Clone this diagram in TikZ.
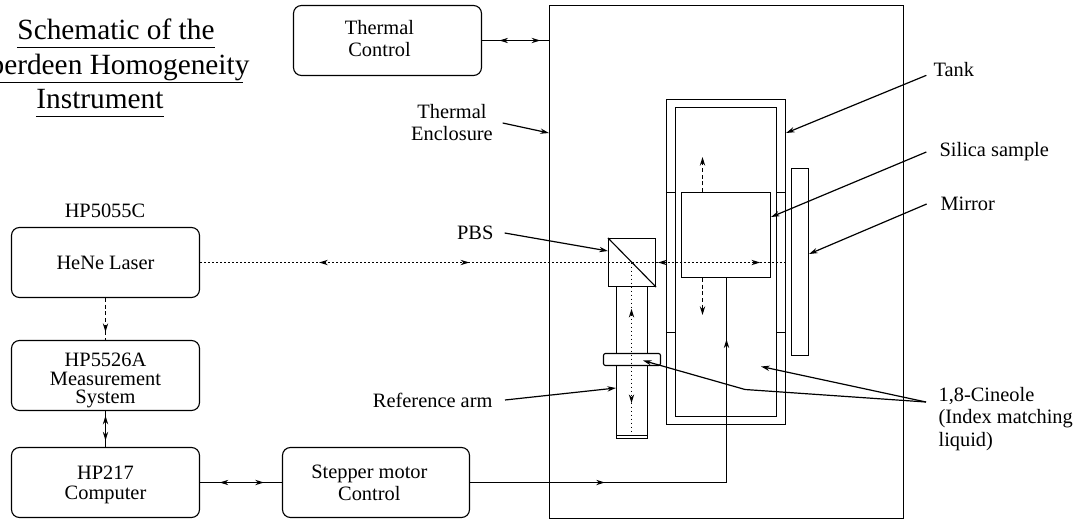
\documentclass[tikz,border=0pt]{standalone}
\usepackage{fontspec}
\setmainfont{Liberation Serif}
\usetikzlibrary{arrows.meta,decorations.markings}

\begin{document}
\begin{tikzpicture}[
    x=0.75pt, y=-0.75pt,
    line width=0.85pt,
    >={Stealth[length=6.5pt,width=4pt]},
    lab/.style={inner sep=0pt, align=center, font=\fontsize{15.3}{16.5}\selectfont},
    sidelab/.style={lab, anchor=west, align=left},
    titlelab/.style={inner sep=0pt, text depth=5pt, font=\fontsize{22}{24}\selectfont},
    block/.style={rectangle, draw, rounded corners=6pt, minimum width=141pt, minimum height=52.5pt, inner sep=0pt, align=center, font=\fontsize{15.3}{16.5}\selectfont},
    part/.style={rectangle, draw, inner sep=0pt},
    pointer/.style={->, line width=0.9pt},
    beam/.style={dash pattern=on 1.2pt off 1.8pt, line width=0.9pt},
    outtips/.style 2 args={decoration={markings, mark=at position #1 with {\arrowreversed{>}}, mark=at position #2 with {\arrow{>}}}, postaction={decorate}},
    fwdtips/.style 2 args={decoration={markings, mark=at position #1 with {\arrow{>}}, mark=at position #2 with {\arrow{>}}}, postaction={decorate}},
    fwdtip/.style={decoration={markings, mark=at position #1 with {\arrow{>}}}, postaction={decorate}},
]
    \useasboundingbox (0,0) rectangle (1080,520);

    % Title
    \node[titlelab, anchor=base] (title1) at (116,40) {Schematic of the};
    \node[titlelab, anchor=base east] (title2) at (250,75) {Aberdeen Homogeneity};
    \node[titlelab, anchor=base] (title3) at (100,109) {Instrument};
    \draw[line width=0.6pt] (title1.south west) -- (title1.south east);
    \draw[line width=0.6pt] (title2.south west) -- ([xshift=-5pt]title2.south east);
    \draw[line width=0.6pt] (title3.south west) -- (title3.south east);

    % Control boxes
    \node[block] (thermal) at (387.5,40.5) {Thermal\hspace*{12pt}\\Control\hspace*{12pt}\rule[-3pt]{0pt}{0pt}};
    \node[block] (laser) at (105.5,262.5) {HeNe Laser};
    \node[block, font=\fontsize{15.3}{14}\selectfont] (meas) at (105.5,375.5) {\rule{0pt}{18pt}HP5526A\\Measurement\\System};
    \node[block, font=\fontsize{15.3}{15.5}\selectfont] (comp) at (105.5,482.5) {\rule{0pt}{14pt}HP217\\Computer};
    \node[block, minimum width=140.25pt] (stepper) at (376,482.5) {Stepper motor\hspace*{10pt}\\Control\hspace*{10pt}};
    \node[lab] (hplab) at (105,211) {HP5055C};

    % Enclosure and tank
    \node[part, minimum width=265.5pt, minimum height=384.75pt] (enclosure) at (726.5,262) {};
    \node[part, minimum width=89.25pt, minimum height=243.75pt] (tank) at (726,262) {};
    \node[part, minimum width=75.75pt, minimum height=231.75pt] (liquid) at (726,262) {};
    \foreach \y in {192.5,332.5} {
        \draw (tank.west |- 0,\y) -- (liquid.west |- 0,\y);
        \draw (liquid.east |- 0,\y) -- (tank.east |- 0,\y);
    }
    \node[part, minimum width=66.75pt, minimum height=63.75pt, fill=white] (sample) at (726,235) {};
    \node[part, minimum width=12.75pt, minimum height=140.25pt] (mirror) at (800,262) {};

    % Reference arm
    \node[part, minimum width=35.25pt, minimum height=36pt] (pbs) at (632,262.5) {};
    \draw (pbs.north west) -- (pbs.south east);
    \node[part, minimum width=23.25pt, minimum height=114pt] (arm) at (632,362.5) {};
    \draw (arm.west |- 0,435.5) -- (arm.east |- 0,435.5);
    \node[part, rounded corners=1.5pt, minimum width=42.75pt, minimum height=9pt, fill=white] (collar) at (632,359.5) {};

    % Side labels
    \node[lab] (enclab) at (452,123) {Thermal\\Enclosure};
    \node[lab, anchor=east] (pbslab) at (494,233) {PBS};
    \node[lab, anchor=east] (reflab) at (493,400) {Reference arm};
    \node[sidelab] (tanklab) at (933,70) {Tank};
    \node[sidelab] (silicalab) at (939,152) {Silica sample};
    \node[sidelab] (mirrorlab) at (940,204) {Mirror};
    \node[sidelab, font=\fontsize{15.3}{17}\selectfont] (cineolelab) at (938,419) {1,8-Cineole\\(Index matching\\liquid)};

    % Free ends
    \coordinate (beamend) at (787,262.5);
    \coordinate (armend) at (631.5,434);
    \coordinate (rodtop) at (726.5,277.5);
    \coordinate (upend) at (702.5,157);
    \coordinate (downend) at (702.5,315);
    \coordinate (cineolestart) at (926,402);
    \coordinate (cineolehit) at (761,366.5);
    \coordinate (cineolebend) at (745,389.5);
    \coordinate (collarhit) at (643,360.5);

    % Signal lines
    \draw[outtips={0.26}{0.87}] (thermal.east) -- (thermal.east -| enclosure.west);
    \draw[densely dashed, line width=0.6pt, fwdtip=0.81] (laser.south) -- (meas.north);
    \draw[outtips={0.13}{0.82}] (meas.south) -- (comp.north);
    \draw[outtips={0.24}{0.78}] (comp.east) -- (stepper.west);
    \draw[fwdtips={0.292}{0.866}] (stepper.east) -| (rodtop);

    % Beams
    \draw[beam, outtips={0.292}{0.66}] (laser.east) -- (laser.east -| pbs.west);
    \draw[beam, outtips={0.28}{0.85}] (laser.east -| pbs.west) -- (beamend);
    \draw[beam, outtips={0.27}{0.82}] (armend |- pbs.center) -- (armend);
    \draw[densely dashed, ->] (upend |- sample.north) -- (upend);
    \draw[densely dashed, ->] (downend |- sample.south) -- (downend);

    % Pointers
    \draw[pointer] ([xshift=7pt]enclab.east) -- (enclosure.west |- 0,133);
    \draw[pointer] ([xshift=8pt]pbslab.east) -- (pbs.west |- 0,251);
    \draw[pointer] ([xshift=9pt]reflab.east) -- (arm.west |- 0,388);
    \draw[pointer] ([xshift=-5pt,yshift=-4pt]tanklab.west) -- (tank.east |- 0,133);
    \draw[pointer] ([xshift=-9.5pt]silicalab.west) -- (sample.east |- 0,217);
    \draw[pointer] ([xshift=-10pt]mirrorlab.west) -- (mirror.east |- 0,254);
    \draw[pointer] (cineolestart) -- (cineolehit);
    \draw[pointer] (cineolestart) -- (cineolebend) -- (collarhit);
\end{tikzpicture}
\end{document}
